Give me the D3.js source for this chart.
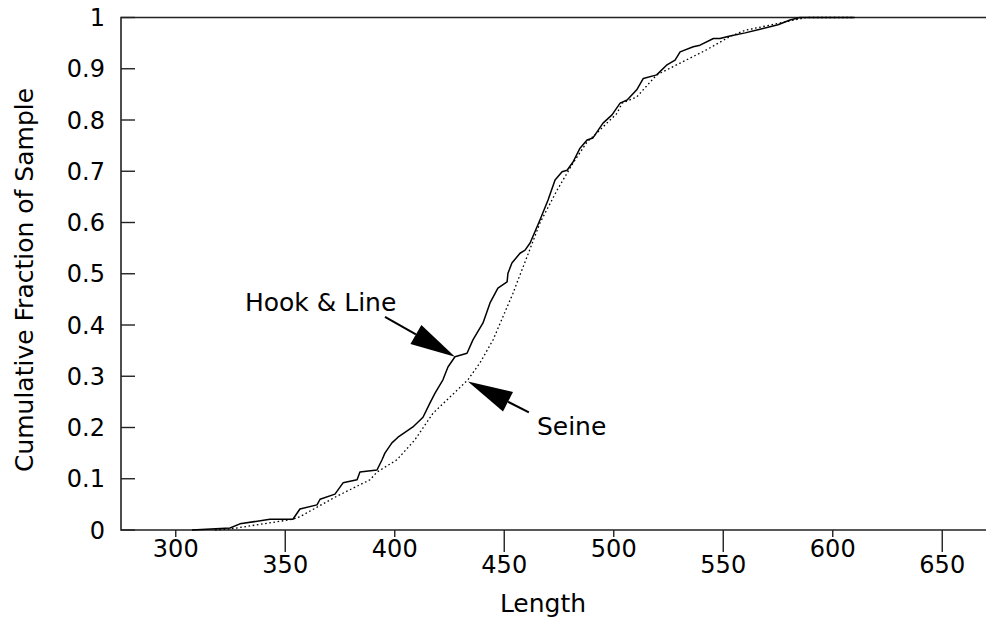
<!DOCTYPE html>
<html><head><meta charset="utf-8">
<script src="https://cdn.jsdelivr.net/npm/d3@7/dist/d3.min.js"></script>
<style>
body{margin:0;background:#fff}
text{font-family:"DejaVu Sans","Liberation Sans",Arial,sans-serif;fill:#000}
</style>
</head><body>
<svg id="chart" width="986" height="625"></svg>
<script>
// ---- data ----
const hookLength   = [307.4,324.8,329.3,343.0,353.5,356.7,364.5,365.9,372.7,376.4,382.8,384.1,391.9,394.2,395.5,398.7,401.5,408.3,412.9,416.1,418.4,422.0,424.3,427.5,433.0,435.7,440.3,443.5,447.1,451.3,451.7,453.5,457.2,459.5,461.8,466.3,470.0,473.2,476.4,478.7,481.4,484.6,487.8,490.5,495.1,499.2,502.9,506.1,510.5,513.5,519.6,524.1,528.0,530.3,536.3,539.4,545.5,548.5,553.1,560.0,566.8,575.0,580.5,585.0,610.0];
const hookFraction = [0,0.004,0.012,0.021,0.021,0.041,0.049,0.060,0.070,0.092,0.098,0.113,0.117,0.137,0.150,0.170,0.181,0.201,0.220,0.248,0.267,0.293,0.318,0.338,0.345,0.371,0.404,0.443,0.472,0.484,0.501,0.521,0.540,0.546,0.560,0.605,0.644,0.683,0.699,0.702,0.718,0.745,0.761,0.765,0.794,0.810,0.833,0.839,0.859,0.881,0.888,0.907,0.917,0.933,0.943,0.946,0.959,0.959,0.964,0.970,0.977,0.986,0.995,1,1];
const seineLength   = [318.0,324.8,343.0,353.5,356.7,373.6,388.7,391.9,401.0,409.2,417.5,426.1,433.4,438.9,444.9,449.4,454.0,456.3,460.4,466.3,474.1,481.4,487.8,492.4,496.9,501.5,503.8,510.5,519.6,530.3,542.4,553.1,560.0,570.0,580.0,588.0,610.0];
const seineFraction = [0,0.002,0.014,0.021,0.026,0.066,0.098,0.113,0.137,0.176,0.228,0.263,0.293,0.326,0.371,0.416,0.462,0.488,0.533,0.599,0.663,0.716,0.757,0.775,0.794,0.813,0.833,0.845,0.888,0.911,0.937,0.963,0.975,0.984,0.993,1,1];
const xTickValues = [300,350,400,450,500,550,600,650];
const yTickValues = [0,0.1,0.2,0.3,0.4,0.5,0.6,0.7,0.8,0.9,1];
const yTickLabels = ["0","0.1","0.2","0.3","0.4","0.5","0.6","0.7","0.8","0.9","1"];
const xTitle = "Length";
const yTitle = "Cumulative Fraction of Sample";
const annotations = [
  {label:"Hook & Line", length:427.5, fraction:0.338},
  {label:"Seine",       length:433.4, fraction:0.290}
];

// ---- layout ----
const svg = d3.select("#chart");
const x = d3.scaleLinear().domain([275,675]).range([121,997]);
const y = d3.scaleLinear().domain([0,1]).range([530,17.5]);
const frameColor = "#222";

// frame (top, left, bottom; right edge lies beyond the window)
svg.append("path")
  .attr("d", `M${x(675)},${y(1)}H${x(275)}V${y(0)}H${x(675)}`)
  .attr("fill","none").attr("stroke",frameColor).attr("stroke-width",1.6);

// y axis ticks (inward) and labels
const yAxis = svg.append("g");
yAxis.selectAll("line").data(yTickValues).join("line")
  .attr("x1",x(275)).attr("x2",x(275)+14)
  .attr("y1",d=>y(d)).attr("y2",d=>y(d))
  .attr("stroke",frameColor).attr("stroke-width",1.4);
yAxis.selectAll("text").data(yTickValues).join("text")
  .attr("x",105).attr("y",d=>y(d)).attr("dy","0.36em")
  .attr("text-anchor","end").attr("font-size",24)
  .text((d,i)=>yTickLabels[i]);

// x axis ticks (outward, alternating length) and labels on two rows
const xAxis = svg.append("g");
xAxis.selectAll("line").data(xTickValues).join("line")
  .attr("x1",d=>x(d)).attr("x2",d=>x(d))
  .attr("y1",y(0)).attr("y2",(d,i)=> i%2 ? y(0)+22 : y(0)+7)
  .attr("stroke",frameColor).attr("stroke-width",1.4);
xAxis.selectAll("text").data(xTickValues).join("text")
  .attr("x",d=>x(d)).attr("y",(d,i)=> i%2 ? 573 : 557)
  .attr("text-anchor","middle").attr("font-size",24)
  .text(d=>d);

// titles
svg.append("text").attr("x",543).attr("y",612).attr("text-anchor","middle")
  .attr("font-size",25).text(xTitle);
svg.append("text").attr("transform","translate(33,280) rotate(-90)")
  .attr("text-anchor","middle").attr("font-size",25).text(yTitle);

// series
const line = d3.line().x(d=>x(d[0])).y(d=>y(d[1]));
const hook = hookLength.map((v,i)=>[v,hookFraction[i]]);
const seine = seineLength.map((v,i)=>[v,seineFraction[i]]);
svg.append("path").datum(seine).attr("d",line)
  .attr("fill","none").attr("stroke","#000").attr("stroke-width",1.3)
  .attr("stroke-dasharray","1.6,2.6");
svg.append("path").datum(hook).attr("d",line)
  .attr("fill","none").attr("stroke","#000").attr("stroke-width",1.5)
  .attr("stroke-linejoin","round");

// annotation arrows
function arrow(tipX, tipY, tailX, tailY){
  const dx = tailX - tipX, dy = tailY - tipY, L = Math.hypot(dx,dy);
  const ux = dx/L, uy = dy/L, px = -uy, py = ux;
  const head = 45, half = 11;
  const bx = tipX + ux*head, by = tipY + uy*head;
  svg.append("line").attr("x1",bx).attr("y1",by).attr("x2",tailX).attr("y2",tailY)
    .attr("stroke","#000").attr("stroke-width",2);
  svg.append("path")
    .attr("d",`M${tipX},${tipY}L${bx+px*half},${by+py*half}L${bx-px*half},${by-py*half}Z`)
    .attr("fill","#000");
}
const hk = annotations[0], sn = annotations[1];
const hx = x(hk.length), hy = y(hk.fraction);
arrow(hx, hy, hx-70, hy-40);
svg.append("text").attr("x",hx-210).attr("y",hy-46).attr("font-size",25).text(hk.label);
const sx = x(sn.length), sy = y(sn.fraction);
arrow(sx, sy, sx+61, sy+31);
svg.append("text").attr("x",sx+69).attr("y",sy+54).attr("font-size",25).text(sn.label);
</script>
</body></html>
